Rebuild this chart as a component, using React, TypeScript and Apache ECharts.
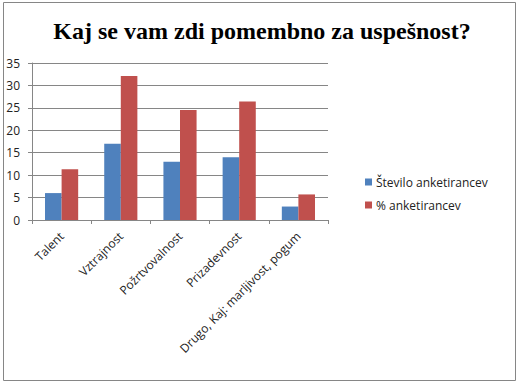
import React, { useEffect, useRef } from "react";
import * as echarts from "echarts";

const categories = ["Talent", "Vztrajnost", "Požrtvovalnost", "Prizadevnost", "Drugo, Kaj: marljivost, pogum"];
const countValues = [6, 17, 13, 14, 3];
const percentValues = [11.3, 32.1, 24.5, 26.4, 5.7];
const seriesNames = ["Število anketirancev", "% anketirancev"];
const titleText = "Kaj se vam zdi pomembno za uspešnost?";

export default function App() {
  const ref = useRef<HTMLDivElement>(null);
  useEffect(() => {
    document.body.style.margin = "0";
    const chart = echarts.init(ref.current!, null, { renderer: "svg" });
    const font = "'Open Sans', 'Noto Sans', sans-serif";
    chart.setOption({
      animation: false,
      backgroundColor: "#ffffff",
      title: {
        text: titleText,
        left: 257,
        textAlign: "center",
        top: 14,
        textStyle: { fontFamily: "'Liberation Serif', serif", fontSize: 24, fontWeight: "bold", color: "#000" },
      },
      graphic: [
        {
          type: "rect",
          shape: { x: 3.5, y: 2.5, width: 512, height: 378 },
          style: { fill: "none", stroke: "#868686", lineWidth: 1 },
        },
      ],
      legend: {
        orient: "vertical",
        left: 360,
        top: 171,
        itemWidth: 7,
        itemHeight: 7,
        itemGap: 11,
        icon: "rect",
        textStyle: { fontFamily: font, fontSize: 12, color: "#222", padding: [0, 0, 0, -1] },
        data: seriesNames,
      },
      grid: { left: 32, right: 196, top: 63, bottom: 164 },
      xAxis: {
        type: "category",
        data: categories,
        axisLine: { lineStyle: { color: "#868686" } },
        axisTick: { show: true, length: 4, lineStyle: { color: "#868686" } },
        axisLabel: { rotate: 45, interval: 0, margin: 14, fontFamily: font, fontSize: 12, color: "#222" },
      },
      yAxis: {
        type: "value",
        min: 0,
        max: 35,
        interval: 5,
        axisLine: { show: true, lineStyle: { color: "#868686" } },
        axisTick: { show: true, length: 4, inside: false, lineStyle: { color: "#868686" } },
        axisLabel: { margin: 12, fontFamily: font, fontSize: 12, color: "#222" },
        splitLine: { lineStyle: { color: "#868686" } },
      },
      series: [
        {
          name: seriesNames[0],
          type: "bar",
          data: countValues,
          itemStyle: { color: "#4F81BD" },
          barGap: "0%",
          barCategoryGap: "44%",
        },
        {
          name: seriesNames[1],
          type: "bar",
          data: percentValues,
          itemStyle: { color: "#C0504D" },
          barGap: "0%",
          barCategoryGap: "44%",
        },
      ],
    });
    return () => chart.dispose();
  }, []);
  return <div ref={ref} style={{ width: 524, height: 384 }} />;
}
